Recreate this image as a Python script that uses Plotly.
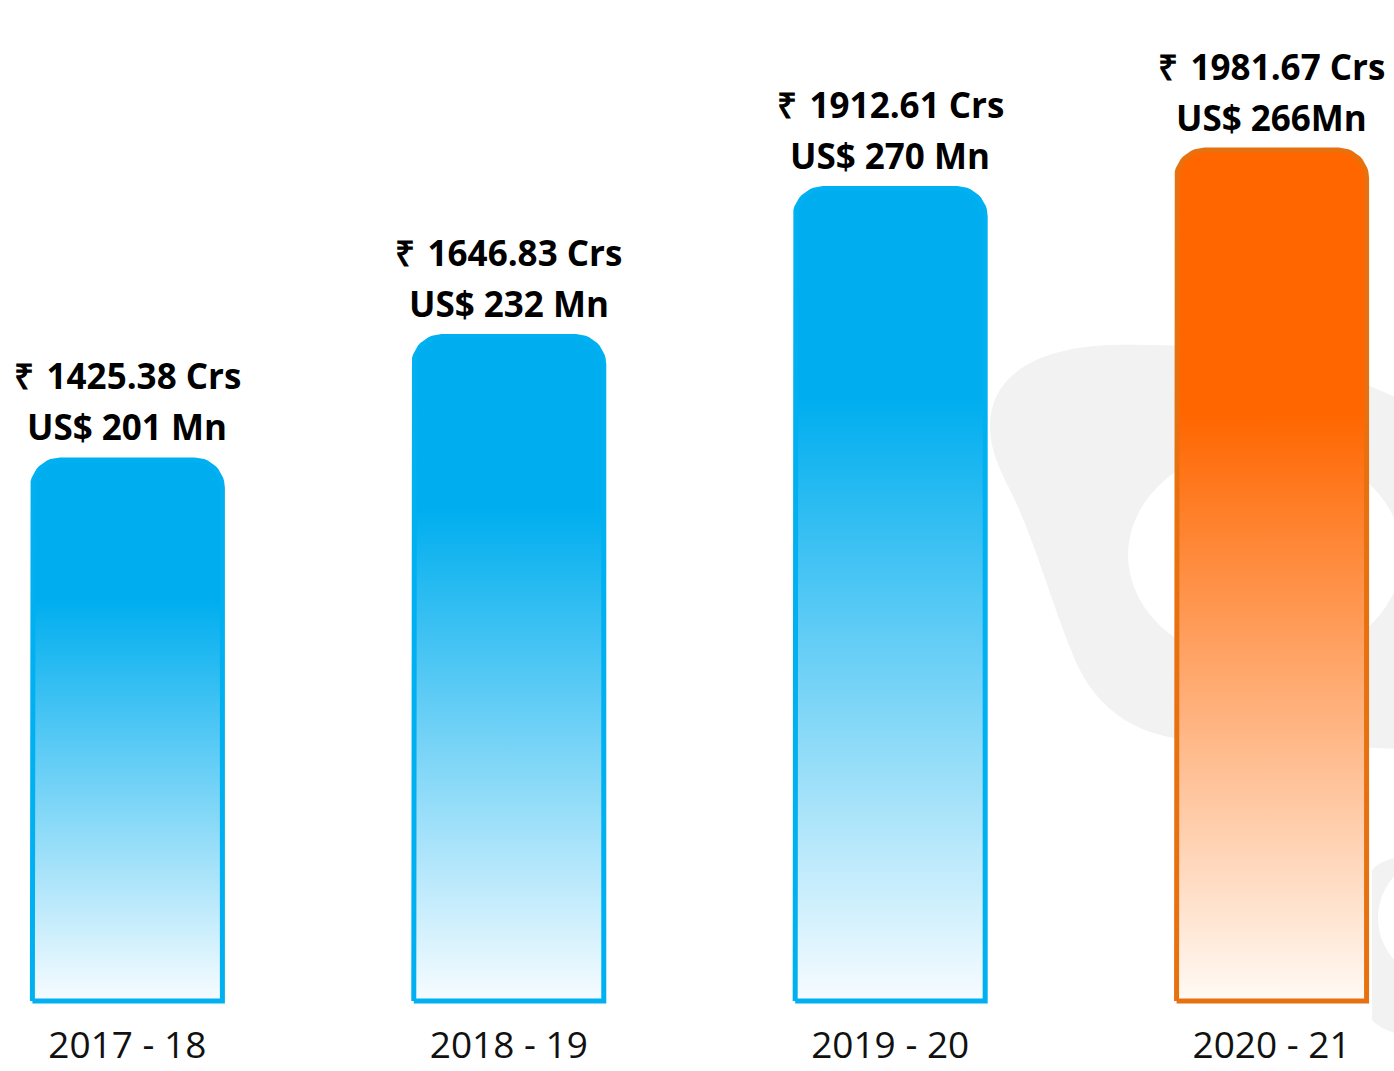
import math
import plotly.graph_objects as go

# ---------------- data ----------------
years = ["2017 - 18", "2018 - 19", "2019 - 20", "2020 - 21"]
inr_crs = [1425.38, 1646.83, 1912.61, 1981.67]
usd_mn = [201, 232, 270, 266]
usd_text = ["US$ 201 Mn", "US$ 232 Mn", "US$ 270 Mn", "US$ 266Mn"]
inr_text = [f"\u20b9 \u200a{v:.2f} Crs" for v in inr_crs]

# ---------------- style / layout constants ----------------
W, H = 1394, 1071
M_B = 67
PLOT_H = H - M_B
X_RANGE = [-0.334, 3.321]
PX_PER_X = W / (X_RANGE[1] - X_RANGE[0])
PX_PER_Y = 0.557          # pixels per crore
BASE = 454.0              # value where the bars start
Y0 = BASE - 3 / PX_PER_Y
Y_RANGE = [Y0, Y0 + PLOT_H / PX_PER_Y]
HALF_W = 95 / PX_PER_X
R_PX = 28

BLUE = "#00AEEF"
ORANGE = "#FF6600"
fill_top = [BLUE, BLUE, BLUE, ORANGE]
fill_bottom = ["#F7FCFF", "#F7FCFF", "#F7FCFF", "#FFFAF5"]
solid_from = [0.74, 0.74, 0.74, 0.69]
line_col = ["#00B0F0", "#00B0F0", "#00B0F0", "#E8710F"]


def bar_outline(xc, top):
    rx = R_PX / PX_PER_X
    ry = R_PX / PX_PER_Y
    xl, xr = xc - HALF_W, xc + HALF_W
    xs, ys = [xl, xl], [BASE, top - ry]
    n = 14
    for k in range(1, n + 1):
        t = math.pi - k * (math.pi / 2) / n
        xs.append(xl + rx + rx * math.cos(t))
        ys.append(top - ry + ry * math.sin(t))
    xs.append(xr - rx)
    ys.append(top)
    for k in range(1, n + 1):
        t = math.pi / 2 - k * (math.pi / 2) / n
        xs.append(xr - rx + rx * math.cos(t))
        ys.append(top - ry + ry * math.sin(t))
    xs += [xr, xl]
    ys += [BASE, BASE]
    return xs, ys


fig = go.Figure()
for i, v in enumerate(inr_crs):
    xs, ys = bar_outline(i, v)
    fig.add_trace(go.Scatter(
        x=xs, y=ys, mode="lines", fill="toself",
        line=dict(color=line_col[i], width=5),
        fillgradient=dict(
            type="vertical",
            start=BASE, stop=v,
            colorscale=[[0, fill_bottom[i]], [solid_from[i], fill_top[i]], [1, fill_top[i]]],
        ),
        name=years[i], showlegend=False, hoverinfo="skip",
    ))


def px_to_paper(path_px):
    out = []
    for tok in path_px.split():
        if "," in tok:
            a, b = tok.split(",")
            out.append(f"{float(a)/W:.5f},{(PLOT_H-float(b))/PLOT_H:.5f}")
        else:
            out.append(tok)
    return " ".join(out)


GRAY = "#F2F2F2"
blob = ("M 990,425 C 990,380 1030,348 1110,345 C 1230,342 1330,360 1420,410 "
        "L 1420,750 L 1190,740 C 1130,735 1095,705 1075,660 "
        "C 1050,600 1035,540 1010,490 C 995,460 990,445 990,425 Z")
piece = ("M 1372,870 C 1380,860 1400,855 1420,855 L 1420,1040 "
         "C 1400,1035 1380,1030 1372,1020 Z")
shapes = [
    dict(type="path", xref="paper", yref="paper", path=px_to_paper(blob),
         fillcolor=GRAY, line=dict(width=0), layer="below"),
    dict(type="circle", xref="paper", yref="paper",
         x0=1128 / W, x1=1402 / W, y0=(PLOT_H - 665) / PLOT_H, y1=(PLOT_H - 445) / PLOT_H,
         fillcolor="white", line=dict(width=0), layer="below"),
    dict(type="path", xref="paper", yref="paper", path=px_to_paper(piece),
         fillcolor=GRAY, line=dict(width=0), layer="below"),
    dict(type="circle", xref="paper", yref="paper",
         x0=1378 / W, x1=1502 / W, y0=(PLOT_H - 980) / PLOT_H, y1=(PLOT_H - 856) / PLOT_H,
         fillcolor="white", line=dict(width=0), layer="below"),
]

label_font = dict(family="Open Sans", size=35, color="#000000", weight=700)
annotations = []
for i, v in enumerate(inr_crs):
    annotations.append(dict(x=i, y=v, text=inr_text[i], showarrow=False,
                            yanchor="middle", yshift=84, font=label_font))
    annotations.append(dict(x=i, y=v, text=usd_text[i], showarrow=False,
                            yanchor="middle", yshift=33, font=label_font))

fig.update_layout(
    width=W, height=H,
    margin=dict(l=0, r=0, t=0, b=M_B),
    paper_bgcolor="white", plot_bgcolor="rgba(0,0,0,0)",
    shapes=shapes, annotations=annotations,
    xaxis=dict(range=X_RANGE, tickvals=list(range(len(years))), ticktext=years,
               showgrid=False, zeroline=False, showline=False, ticks="",
               ticklabelstandoff=16, automargin=False, fixedrange=True,
               tickfont=dict(family="Open Sans", size=37, color="#111111")),
    yaxis=dict(range=Y_RANGE, visible=False, showgrid=False, zeroline=False, fixedrange=True),
    showlegend=False,
)

fig.write_html("out.html", config={"displayModeBar": False},
               post_script="document.body.style.margin='0';")
